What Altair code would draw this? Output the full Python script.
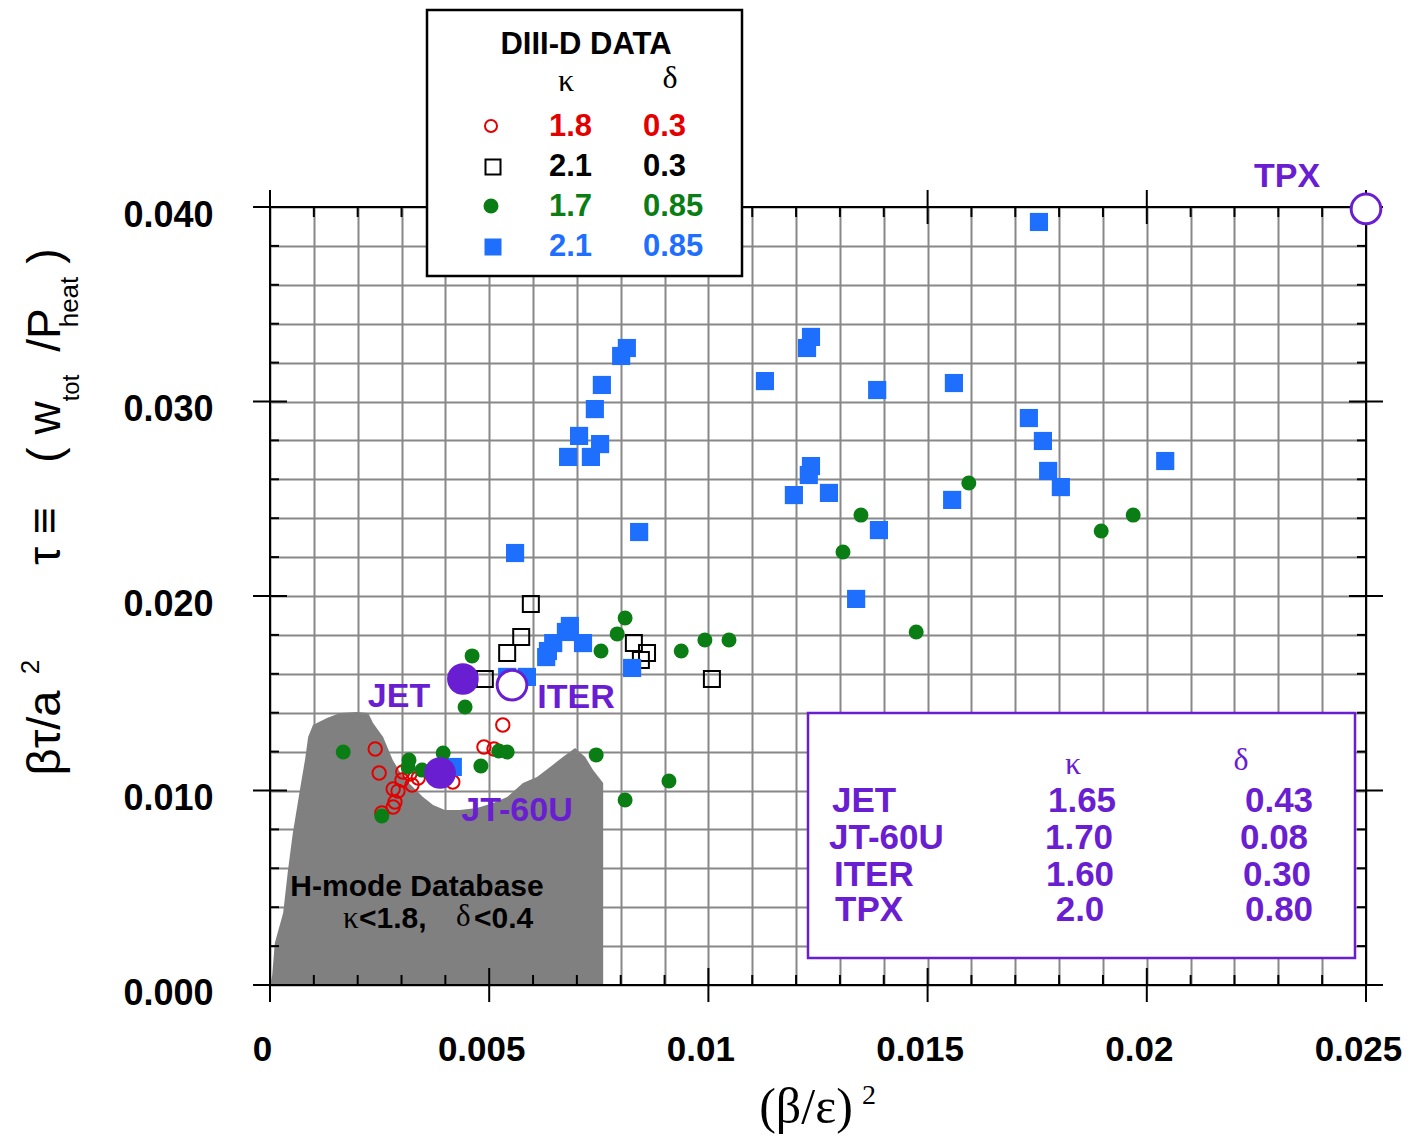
import altair as alt
import pandas as pd

# ---------------- data ----------------
RED_X = [0.00240, 0.00249, 0.00531, 0.00488, 0.00511, 0.00303, 0.00319, 0.00324,
         0.00301, 0.00281, 0.00292, 0.00285, 0.00281, 0.00255, 0.00417, 0.00338]
RED_Y = [0.01213, 0.01090, 0.01337, 0.01224, 0.01213, 0.01095, 0.01085, 0.01028,
         0.01054, 0.01008, 0.00997, 0.00941, 0.00915, 0.00884, 0.01044, 0.01064]

BLACK_X = [0.00595, 0.00573, 0.00541, 0.00490, 0.00830, 0.00860, 0.00846, 0.01008]
BLACK_Y = [0.01959, 0.01789, 0.01707, 0.01573, 0.01758, 0.01707, 0.01671, 0.01573]

GREEN_X = [0.01594, 0.01348, 0.01307, 0.01969, 0.01896, 0.01474, 0.00810, 0.00792,
           0.00755, 0.00938, 0.00992, 0.01047, 0.00461, 0.00445, 0.00167, 0.00255,
           0.00317, 0.00315, 0.00347, 0.00395, 0.00481, 0.00522, 0.00541, 0.00744,
           0.00910, 0.00810]
GREEN_Y = [0.02581, 0.02416, 0.02226, 0.02416, 0.02334, 0.01815, 0.01887, 0.01805,
           0.01717, 0.01717, 0.01774, 0.01774, 0.01692, 0.01429, 0.01198, 0.00869,
           0.01157, 0.01121, 0.01105, 0.01193, 0.01126, 0.01203, 0.01198, 0.01183,
           0.01049, 0.00951]

BLUE_X = [0.01754, 0.00814, 0.00801, 0.00757, 0.00741, 0.00705, 0.00753, 0.00680,
          0.00732, 0.00842, 0.00559, 0.01234, 0.01225, 0.01129, 0.01385, 0.01560,
          0.01731, 0.01763, 0.01775, 0.01804, 0.02042, 0.01234, 0.01229, 0.01195,
          0.01275, 0.01556, 0.01389, 0.01337, 0.00684, 0.00675, 0.00646, 0.00634,
          0.00630, 0.00714, 0.00826, 0.00586, 0.00541, 0.00417]
BLUE_Y = [0.03923, 0.03275, 0.03234, 0.03085, 0.02961, 0.02823, 0.02781, 0.02715,
          0.02715, 0.02329, 0.02221, 0.03332, 0.03275, 0.03105, 0.03059, 0.03095,
          0.02915, 0.02797, 0.02643, 0.02560, 0.02694, 0.02668, 0.02622, 0.02519,
          0.02530, 0.02494, 0.02339, 0.01985, 0.01846, 0.01815, 0.01758, 0.01717,
          0.01686, 0.01758, 0.01630, 0.01584, 0.01584, 0.01121]

MACH_NAMES = ["JET", "JT-60U", "ITER", "TPX"]
MACH_X = [0.00440, 0.00388, 0.00552, 0.02500]
MACH_Y = [0.01573, 0.01090, 0.01542, 0.03990]
MACH_KAPPA = ["1.65", "1.70", "1.60", "2.0"]
MACH_DELTA = ["0.43", "0.08", "0.30", "0.80"]

HMODE_X = [0.00000, 0.00005, 0.00011, 0.00030, 0.00041, 0.00052, 0.00068, 0.00080,
           0.00087, 0.00098, 0.00130, 0.00160, 0.00198, 0.00224, 0.00235, 0.00258,
           0.00280, 0.00303, 0.00326, 0.00349, 0.00372, 0.00399, 0.00433, 0.00472,
           0.00509, 0.00541, 0.00577, 0.00609, 0.00639, 0.00668, 0.00696, 0.00719,
           0.00737, 0.00760]
HMODE_Y = [0.00000, 0.00050, 0.00216, 0.00370, 0.00590, 0.00780, 0.01000, 0.01160,
           0.01275, 0.01337, 0.01373, 0.01398, 0.01404, 0.01398, 0.01347, 0.01275,
           0.01157, 0.01070, 0.01018, 0.00967, 0.00925, 0.00900, 0.00900, 0.00910,
           0.00936, 0.00967, 0.01039, 0.01070, 0.01121, 0.01172, 0.01219, 0.01172,
           0.01105, 0.01039]

DIIID_KAPPA = ["1.8", "2.1", "1.7", "2.1"]
DIIID_DELTA = ["0.3", "0.3", "0.85", "0.85"]

X_TICKS = [i / 1000 for i in range(26)]
X_MAJOR = [0.0, 0.005, 0.01, 0.015, 0.02, 0.025]
Y_TICKS = [i / 500 for i in range(21)]
Y_MAJOR = [0.0, 0.01, 0.02, 0.03, 0.04]

# ---------------- styling / geometry ----------------
OX, OY = 270, 207          # page position of the plot origin (top-left)
W, H = 1096, 778
PURPLE = "#6a1ed2"
RED = "#e30000"
GREEN = "#0a7d14"
BLUE = "#1f6fff"
SANS = "Liberation Sans"
SERIF = "Liberation Serif"

XS = alt.Scale(domain=[0, 0.025], nice=False, zero=False)
YS = alt.Scale(domain=[0, 0.04], nice=False, zero=False)
XAXIS = alt.Axis(values=X_TICKS, grid=True, gridColor="#888888", gridWidth=2,
                 domain=False, ticks=False, tickSize=0, labelOverlap=False, labelFlush=False,
                 labelExpr="(abs(datum.value*200 - round(datum.value*200)) < 0.001) ? "
                           "(datum.value == 0 ? '0' : format(datum.value, '.3~f')) : ''",
                 labelFont=SANS, labelFontWeight="bold", labelFontSize=35, labelColor="black",
                 labelBaseline="middle", labelPadding=64, labelOffset=-8, title=None)
YAXIS = alt.Axis(values=Y_TICKS, grid=True, gridColor="#888888", gridWidth=2,
                 domain=False, ticks=False, tickSize=0, labelOverlap=False, labelFlush=False,
                 labelExpr="(abs(datum.value*100 - round(datum.value*100)) < 0.001) ? "
                           "format(datum.value, '.3f') : ''",
                 labelFont=SANS, labelFontWeight="bold", labelFontSize=36, labelColor="black",
                 labelPadding=57, labelOffset=8, title=None)


def X(f):
    return alt.X(f, type="quantitative", scale=XS, axis=XAXIS)


def Y(f):
    return alt.Y(f, type="quantitative", scale=YS, axis=YAXIS)


ONE = pd.DataFrame({"a": [0]})


def px(x):
    return alt.value(x - OX)


def py(y):
    return alt.value(y - OY)


def txt(s, x, y, size, color="black", weight="bold", font=SANS, align="center", angle=None):
    kw = dict(text=s, fontSize=size, color=color, fontWeight=weight, font=font,
              align=align, baseline="middle")
    if angle is not None:
        kw["angle"] = angle
    return alt.Chart(ONE).mark_text(**kw).encode(x=px(x), y=py(y))


def box(x1, y1, x2, y2, stroke):
    return alt.Chart(ONE).mark_rect(fill="white", stroke=stroke, strokeWidth=2.5).encode(
        x=px(x1), x2=px(x2), y=py(y1), y2=py(y2))


def sym(x, y, **kw):
    return alt.Chart(ONE).mark_point(opacity=1, **kw).encode(x=px(x), y=py(y))


layers = []

# H-mode database region
hm = pd.DataFrame({"x": HMODE_X, "y": HMODE_Y})
layers.append(alt.Chart(hm).mark_area(color="#808080", opacity=1, interpolate="linear")
              .encode(x=X("x"), y=Y("y")))

# frame lines
for enc in [dict(x=alt.value(0), y=alt.value(0), y2=alt.value(H)),
            dict(x=alt.value(W), y=alt.value(0), y2=alt.value(H)),
            dict(y=alt.value(0), x=alt.value(0), x2=alt.value(W)),
            dict(y=alt.value(H), x=alt.value(0), x2=alt.value(W))]:
    layers.append(alt.Chart(ONE).mark_rule(color="black", strokeWidth=2).encode(**enc))

# tick marks
x_minor = pd.DataFrame({"v": [v for v in X_TICKS if all(abs(v - m) > 1e-9 for m in X_MAJOR)]})
x_major = pd.DataFrame({"v": X_MAJOR})
y_minor = pd.DataFrame({"v": [v for v in Y_TICKS if all(abs(v - m) > 1e-9 for m in Y_MAJOR)]})
y_major = pd.DataFrame({"v": Y_MAJOR})
rule = dict(color="black", strokeWidth=2)
layers += [
    alt.Chart(x_minor).mark_rule(**rule).encode(x=X("v"), y=alt.value(H - 10), y2=alt.value(H)),
    alt.Chart(x_minor).mark_rule(**rule).encode(x=X("v"), y=alt.value(0), y2=alt.value(10)),
    alt.Chart(x_major).mark_rule(**rule).encode(x=X("v"), y=alt.value(H - 17), y2=alt.value(H + 17)),
    alt.Chart(x_major).mark_rule(**rule).encode(x=X("v"), y=alt.value(-17), y2=alt.value(17)),
    alt.Chart(y_minor).mark_rule(**rule).encode(y=Y("v"), x=alt.value(0), x2=alt.value(9)),
    alt.Chart(y_minor).mark_rule(**rule).encode(y=Y("v"), x=alt.value(W - 9), x2=alt.value(W)),
    alt.Chart(y_major).mark_rule(**rule).encode(y=Y("v"), x=alt.value(-17), x2=alt.value(17)),
    alt.Chart(y_major).mark_rule(**rule).encode(y=Y("v"), x=alt.value(W - 17), x2=alt.value(W + 17)),
]

# DIII-D data
layers.append(alt.Chart(pd.DataFrame({"x": RED_X, "y": RED_Y}))
              .mark_point(shape="circle", filled=False, color=RED, strokeWidth=2, size=180, opacity=1)
              .encode(x=X("x"), y=Y("y")))
layers.append(alt.Chart(pd.DataFrame({"x": BLACK_X, "y": BLACK_Y}))
              .mark_point(shape="square", filled=False, color="black", strokeWidth=2, size=256, opacity=1)
              .encode(x=X("x"), y=Y("y")))
layers.append(alt.Chart(pd.DataFrame({"x": BLUE_X, "y": BLUE_Y}))
              .mark_point(shape="square", filled=True, color=BLUE, size=330, opacity=1)
              .encode(x=X("x"), y=Y("y")))
layers.append(alt.Chart(pd.DataFrame({"x": GREEN_X, "y": GREEN_Y}))
              .mark_point(shape="circle", filled=True, color=GREEN, size=225, opacity=1)
              .encode(x=X("x"), y=Y("y")))

# machines
mach = pd.DataFrame({"name": MACH_NAMES, "x": MACH_X, "y": MACH_Y})
layers.append(alt.Chart(mach[mach["name"].isin(["JET", "JT-60U"])])
              .mark_point(shape="circle", filled=True, color=PURPLE, size=1000, opacity=1)
              .encode(x=X("x"), y=Y("y")))
layers.append(alt.Chart(mach[mach["name"].isin(["ITER", "TPX"])])
              .mark_point(shape="circle", filled=True, fill="white", stroke=PURPLE,
                          strokeWidth=3, size=880, opacity=1)
              .encode(x=X("x"), y=Y("y")))

# machine labels
for s, x, y in [("JET", 399, 697), ("ITER", 576, 698), ("JT-60U", 517, 811), ("TPX", 1287, 177)]:
    layers.append(txt(s, x, y, 34, color=PURPLE))

# H-mode database text
layers.append(txt("H-mode Database", 417, 887, 30))
layers.append(txt("κ", 343, 919, 31, weight="normal", font=SERIF, align="left"))
layers.append(txt("<1.8,", 359, 919, 30, align="left"))
layers.append(txt("δ", 456, 917, 31, weight="normal", font=SERIF, align="left"))
layers.append(txt("<0.4", 474, 919, 30, align="left"))

# DIII-D legend box
layers.append(box(427, 10, 742, 276, "black"))
layers.append(txt("DIII-D DATA", 586, 45, 31))
layers.append(txt("κ", 566, 81, 32, weight="normal", font=SERIF))
layers.append(txt("δ", 670, 78, 32, weight="normal", font=SERIF))
row_colors = [RED, "black", GREEN, BLUE]
row_y = [127, 167, 207, 247]
for k, d, c, y in zip(DIIID_KAPPA, DIIID_DELTA, row_colors, row_y):
    layers.append(txt(k, 549, y, 31, color=c, align="left"))
    layers.append(txt(d, 643, y, 31, color=c, align="left"))
layers.append(sym(491, 126, shape="circle", filled=False, color=RED, strokeWidth=2, size=144))
layers.append(sym(493, 167, shape="square", filled=False, color="black", strokeWidth=2, size=225))
layers.append(sym(491, 206, shape="circle", filled=True, color=GREEN, size=225))
layers.append(sym(493, 247, shape="square", filled=True, color=BLUE, size=289))

# machine parameter box
layers.append(box(808, 713, 1355, 958, PURPLE))
layers.append(txt("κ", 1073, 764, 32, color=PURPLE, weight="normal", font=SERIF))
layers.append(txt("δ", 1241, 760, 32, color=PURPLE, weight="normal", font=SERIF))
name_x = [832, 829, 834, 835]
kap_x = [1082, 1079, 1080, 1080]
del_x = [1279, 1274, 1277, 1279]
tab_y = [801, 838, 875, 910]
for n, k, d, nx, kx, dx, y in zip(MACH_NAMES, MACH_KAPPA, MACH_DELTA, name_x, kap_x, del_x, tab_y):
    layers.append(txt(n, nx, y, 35, color=PURPLE, align="left"))
    layers.append(txt(k, kx, y, 35, color=PURPLE))
    layers.append(txt(d, dx, y, 35, color=PURPLE))

# y-axis title pieces (rotated)
for s, x, y, fs in [("βτ/a", 46, 733, 47), ("2", 31, 667, 26), ("τ ≡", 46, 536, 46),
                    ("(", 46, 455, 46), ("w", 46, 418, 46), ("tot", 72, 388, 24),
                    ("/P", 46, 330, 46), ("heat", 70, 302, 26), (")", 46, 256, 46)]:
    layers.append(txt(s, x, y, fs, weight="normal", angle=270))

# x-axis title
layers.append(txt("(β/ε)", 806, 1108, 50, weight="normal", font=SERIF))
layers.append(txt("2", 869, 1096, 28, weight="normal", font=SERIF))

chart = alt.layer(*layers).properties(
    width=W, height=H,
    autosize=alt.AutoSizeParams(type="none"),
    padding={"left": OX - 8, "top": OY - 8, "right": 1402 - OX - W, "bottom": 1136 - OY - H},
).configure_view(stroke="transparent")

chart.save("out.html", embed_options={"renderer": "svg", "actions": False})
